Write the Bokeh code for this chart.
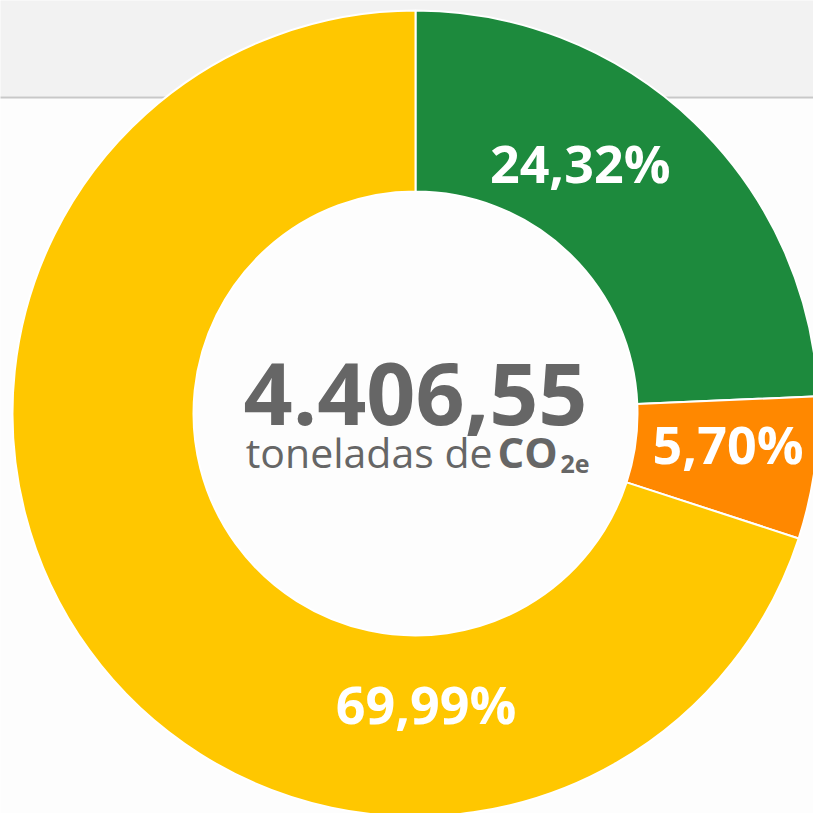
import numpy as np
from bokeh.plotting import figure
from bokeh.models import Range1d
from bokeh.core.properties import value
from bokeh.embed import file_html
from bokeh.resources import INLINE

# ---- data ----
values = [24.32, 5.70, 69.99]
labels = ["24,32%", "5,70%", "69,99%"]
colors = ["#1D8A3D", "#FF8800", "#FFC700"]
total_text = "4.406,55"
unit_text = "toneladas de"
unit_bold = "CO"
unit_sub = "2e"

# ---- layout (pixel-like data space; y up) ----
W, H = 813, 813
cx, cy = 423, 400
r_out, r_in = 403, 222

p = figure(width=W, height=H, output_backend="svg", toolbar_location=None,
           x_range=Range1d(8, 8 + W), y_range=Range1d(0, H),
           min_border=0, outline_line_color=None,
           background_fill_color="#FDFDFD", border_fill_color="#FDFDFD")
p.axis.visible = False
p.grid.visible = False

# top band
p.quad(left=[0], right=[900], bottom=[717], top=[900], fill_color="#F2F2F2", line_color=None)
p.segment(x0=[0], y0=[716], x1=[900], y1=[716], line_color="#C8C8C8", line_width=2)

frac = np.array(values) / np.sum(values)
cum = np.concatenate([[0], np.cumsum(frac)])
start = np.pi / 2 - cum[1:] * 2 * np.pi
end = np.pi / 2 - cum[:-1] * 2 * np.pi

p.annular_wedge(x=cx, y=cy, inner_radius=r_in, outer_radius=r_out,
                start_angle=start, end_angle=end, direction="anticlock",
                fill_color=colors, line_color="white", line_width=2)

# label placement (polar offsets, degrees / px)
lab_ang = np.deg2rad([56.7, -5.5, -87.9])
lab_r = [300, 314, 290]
lx = [cx + r * np.cos(a) for r, a in zip(lab_r, lab_ang)]
ly = [cy + r * np.sin(a) for r, a in zip(lab_r, lab_ang)]
p.text(x=lx, y=ly, text=labels, text_color="white", text_font=value("Open Sans"),
       text_font_style="bold", text_font_size="52px", text_align="center",
       text_baseline="middle")

# center text
p.text(x=[cx], y=[cy + 20], text=[total_text], text_color="#666666",
       text_font=value("Open Sans"), text_font_style="bold", text_font_size="86px",
       text_align="center", text_baseline="alphabetic")
p.text(x=[cx + 77], y=[cy - 38], text=[unit_text], text_color="#666666",
       text_font=value("Open Sans"), text_font_size="41px",
       text_align="right", text_baseline="alphabetic")
p.text(x=[cx + 82], y=[cy - 38], text=[unit_bold], text_color="#666666",
       text_font=value("Open Sans"), text_font_style="bold", text_font_size="42px",
       text_align="left", text_baseline="alphabetic")
p.text(x=[cx + 145], y=[cy - 50], text=[unit_sub], text_color="#666666",
       text_font=value("Open Sans"), text_font_style="bold", text_font_size="25px",
       text_align="left", text_baseline="alphabetic")

open("out.html", "w").write(file_html(p, INLINE))
